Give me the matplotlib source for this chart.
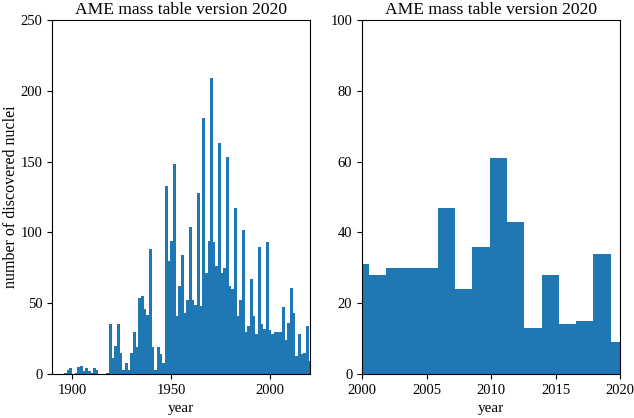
import numpy as np
import matplotlib
matplotlib.use("Agg")
import matplotlib.pyplot as plt

# Histogram bins (years): start year, bin width, and count per bin
bin_start = 1896.0
bin_width = 1.34
counts = [1, 3, 4, 0, 1, 5, 6, 2, 4, 2,
          1, 4, 3, 0, 0, 0, 1, 35, 11, 20,
          35, 15, 3, 8, 3, 15, 30, 19, 54, 55,
          46, 42, 88, 19, 3, 19, 14, 8, 133, 80,
          94, 148, 41, 62, 84, 43, 52, 104, 52, 49,
          128, 48, 181, 71, 94, 209, 93, 76, 163, 71,
          75, 153, 62, 60, 117, 41, 52, 102, 30, 34,
          67, 41, 28, 90, 35, 32, 93, 31, 28, 30,
          30, 30, 47, 24, 36, 61, 43, 13, 28, 14,
          15, 34, 9]

title = "AME mass table version 2020"
xlabel = "year"
ylabel = "number of discovered nuclei"
left_xticks = [1900, 1950, 2000]
left_yticks = [0, 50, 100, 150, 200, 250]
right_xticks = [2000, 2005, 2010, 2015, 2020]
right_yticks = [0, 20, 40, 60, 80, 100]

plt.rcParams['font.family'] = ['Liberation Serif', 'DejaVu Serif']

edges = bin_start + bin_width * np.arange(len(counts) + 1)
centers = 0.5 * (edges[:-1] + edges[1:])

fig = plt.figure(figsize=(6.34, 4.18), dpi=100)
ax1 = fig.add_axes([52/634, 44/418, 258/634, 354/418])
ax2 = fig.add_axes([362/634, 44/418, 258/634, 354/418])

for ax in (ax1, ax2):
    ax.hist(centers, bins=edges, weights=counts, color='#1f77b4')
    ax.set_title(title, fontsize=12.6, pad=4)
    ax.set_xlabel(xlabel, fontsize=11)
    ax.tick_params(labelsize=10.5)

ax1.set_xlim(1890, 2020)
ax1.set_ylim(0, 250)
ax1.set_xticks(left_xticks)
ax1.set_yticks(left_yticks)
ax1.set_ylabel(ylabel, fontsize=11.5, labelpad=1)

ax2.set_xlim(2000, 2020)
ax2.set_ylim(0, 100)
ax2.set_xticks(right_xticks)
ax2.set_yticks(right_yticks)

fig.savefig("out.png", dpi=100)
